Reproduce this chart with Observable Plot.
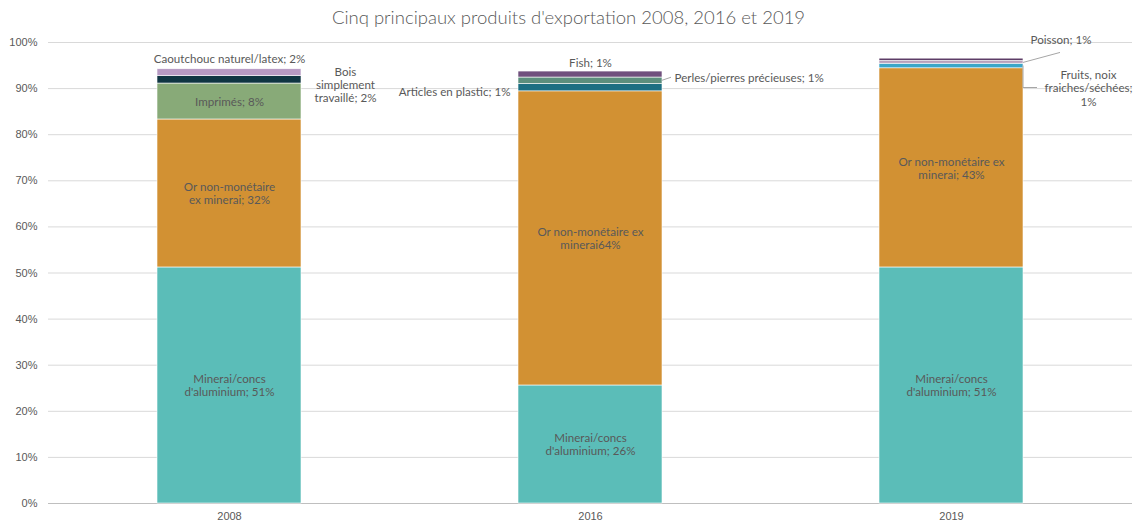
<!DOCTYPE html>
<html>
<head>
<meta charset="utf-8">
<script src="https://cdn.jsdelivr.net/npm/d3@7"></script>
<script src="https://cdn.jsdelivr.net/npm/@observablehq/plot@0.6"></script>
<style>
  html, body { margin: 0; padding: 0; background: white; }
  #title { height: 28px; padding-top: 2px; text-align: center; font-family: Lato, "Open Sans", sans-serif; font-weight: 300; font-size: 18.5px; line-height: 30px; color: #595959; }
</style>
</head>
<body>
<div id="title">Cinq principaux produits d'exportation 2008, 2016 et 2019</div>
<div id="chart"></div>
<script>
// ---- data ----
const years = ["2008", "2016", "2019"];
const segYear = ["2008","2008","2008","2008","2008",
                 "2016","2016","2016","2016","2016",
                 "2019","2019","2019","2019","2019"];
const segProduct = [
  "Minerai/concs d'aluminium","Or non-monétaire ex minerai","Imprimés","Bois simplement travaillé","Caoutchouc naturel/latex",
  "Minerai/concs d'aluminium","Or non-monétaire ex minerai","Articles en plastic","Perles/pierres précieuses","Fish",
  "Minerai/concs d'aluminium","Or non-monétaire ex minerai","Fruits, noix fraiches/séchées","Autres","Poisson"];
const segValue = [51.2, 32.1, 7.8, 1.6, 1.5,
                  25.6, 63.8, 1.6, 1.4, 1.3,
                  51.2, 43.2, 1.0, 0.6, 0.5];
const segLabel = [
  "Minerai/concs\nd'aluminium; 51%", "Or non-monétaire\nex minerai; 32%", "Imprimés; 8%", "Bois\nsimplement\ntravaillé; 2%", "Caoutchouc naturel/latex; 2%",
  "Minerai/concs\nd'aluminium; 26%", "Or non-monétaire ex\nminerai64%", "Articles en plastic; 1%", "Perles/pierres précieuses; 1%", "Fish; 1%",
  "Minerai/concs\nd'aluminium; 51%", "Or non-monétaire ex\nminerai; 43%", "Fruits, noix\nfraiches/séchées;\n1%", "", "Poisson; 1%"];
const yTicks = [0, 10, 20, 30, 40, 50, 60, 70, 80, 90, 100];

// ---- styles (kept apart from data) ----
const productColors = {
  "Minerai/concs d'aluminium": "#5bbdb8",
  "Or non-monétaire ex minerai": "#d29133",
  "Imprimés": "#88aa78",
  "Bois simplement travaillé": "#0f3542",
  "Caoutchouc naturel/latex": "#b79ac3",
  "Articles en plastic": "#1c6f82",
  "Perles/pierres précieuses": "#5c8f7d",
  "Fish": "#70507d",
  "Fruits, noix fraiches/séchées": "#3ba6c8",
  "Autres": "#b9a0bb",
  "Poisson": "#5d3d66"
};
// label placement per segment index: [mode, dx, dy, anchor]
const labelPlacement = {
  0: ["mid", 0, 0, "middle"], 1: ["mid", 0, 0, "middle"], 2: ["mid", 0, 0, "middle"],
  3: ["mid", 116, 5, "middle"], 4: ["top", 0, -6, "middle"],
  5: ["mid", 0, 0, "middle"], 6: ["mid", 0, 0, "middle"],
  7: ["mid", -80, 4, "end"], 8: ["mid", 84, -3, "start"], 9: ["top", 0, -5, "middle"],
  10: ["mid", 0, 0, "middle"], 11: ["mid", 0, 0, "middle"],
  12: ["mid", 137, 22, "middle"], 14: ["top", 79, -15, "start"]
};

// ---- derived table ----
const cum = {};
const rows = segValue.map((v, i) => {
  const y = segYear[i];
  const base = cum[y] || 0;
  cum[y] = base + v;
  return { i, year: y, product: segProduct[i], value: v, y1: base, y2: base + v, mid: base + v / 2, label: segLabel[i] };
});

const labelRows = rows.filter(d => d.label && labelPlacement[d.i]).map(d => {
  const [mode, dx, dy, anchor] = labelPlacement[d.i];
  return { ...d, ly: mode === "top" ? d.y2 : d.mid, dx, dy, anchor, la: mode === "top" ? "bottom" : "middle" };
});

const textStyle = { fontFamily: "Lato, 'Open Sans', sans-serif", fontSize: 11.6, fill: "#595959", lineHeight: 1.15 };

const labelMarks = labelRows.map(d => Plot.text([d], {
  x: "year", y: "ly", text: "label", dx: d.dx, dy: d.dy,
  textAnchor: d.anchor, lineAnchor: d.la, ...textStyle
}));

// leader lines drawn from scale positions
function leaders(index, scales) {
  const sx = scales.x, sy = scales.y;
  const bw = typeof sx.bandwidth === "function" ? sx.bandwidth() : (sx.bandwidth ?? 0);
  const g = d3.create("svg:g").attr("fill", "none").attr("stroke", "#a6a6a6").attr("stroke-width", 1);
  const right = (yr) => sx(yr) + bw;
  // Perles
  { const d = rows[8]; const x0 = right(d.year), y0 = sy(d.mid);
    g.append("path").attr("d", `M${x0},${y0}L${x0 + 9},${y0 - 3}`); }
  // Poisson
  { const d = rows[14]; const x0 = right(d.year), y0 = sy(d.y1);
    g.append("path").attr("d", `M${x0},${y0 + 2}L${x0 + 37},${y0 - 8}`); }
  // Fruits
  { const d = rows[12]; const x0 = right(d.year), y0 = sy(d.mid);
    g.append("path").attr("d", `M${x0},${y0}L${x0},${y0 + 22}L${x0 + 14},${y0 + 22}`); }
  return g.node();
}

const chart = Plot.plot({
  width: 1137,
  height: 494,
  marginLeft: 48,
  marginRight: 5,
  marginTop: 12,
  marginBottom: 21,
  style: { fontFamily: "Lato, sans-serif", fontSize: "11px", color: "#595959", background: "white", overflow: "visible" },
  x: { domain: years, paddingInner: 0.6, paddingOuter: 0.3, label: null },
  y: { domain: [0, 100], label: null },
  color: { domain: Object.keys(productColors), range: Object.values(productColors) },
  marks: [
    Plot.gridY(yTicks, { stroke: "#d9d9d9", strokeOpacity: 1 }),
    Plot.ruleY([0], { stroke: "#bfbfbf" }),
    Plot.axisY(yTicks, { tickSize: 0, tickPadding: 11, tickFormat: d => d + "%", fontFamily: "'Liberation Sans', Arial, sans-serif", fontSize: 11, fill: "#595959", label: null }),
    Plot.axisX(years, { tickSize: 0, tickPadding: 9, fontFamily: "'Liberation Sans', Arial, sans-serif", fontSize: 11, fill: "#595959", label: null }),
    Plot.rectY(rows, { x: "year", y1: "y1", y2: "y2", fill: "product", stroke: "white", strokeWidth: 0.6 }),
    leaders,
    ...labelMarks
  ]
});
document.getElementById("chart").appendChild(chart);
</script>
</body>
</html>
